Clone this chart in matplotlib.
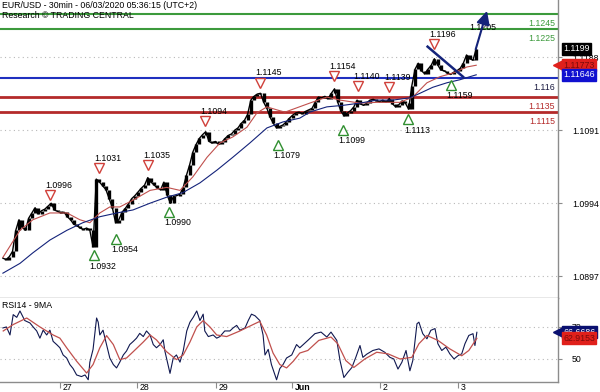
import matplotlib
matplotlib.use("Agg")
import matplotlib.pyplot as plt
from matplotlib.transforms import offset_copy, blended_transform_factory

plt.rcParams['font.family'] = ['Liberation Sans', 'DejaVu Sans']

# hourly closes, hour 0 = first bar on the chart
closes = [
    1.0921, 1.0919, 1.0923, 1.0930, 1.0958, 1.0972, 1.0962, 1.0958, 1.0974, 1.0981,
    1.0988, 1.0980, 1.0984, 1.0986, 1.0990, 1.0994, 1.0985, 1.0983, 1.0981, 1.0982,
    1.0976, 1.0972, 1.0966, 1.0964, 1.0961, 1.0959, 1.0961, 1.0958, 1.0936, 1.1026,
    1.1022, 1.1017, 1.1012, 1.1000, 1.0988, 1.0968, 1.0972, 1.0982, 1.0987, 1.0993,
    1.1000, 1.1004, 1.1009, 1.1014, 1.1018, 1.1028, 1.1022, 1.1018, 1.1014, 1.1012,
    1.1022, 1.1005, 1.0994, 1.1003, 1.1004, 1.1006, 1.1015, 1.1031, 1.1045, 1.1062,
    1.1072, 1.1080, 1.1085, 1.1089, 1.1076, 1.1074, 1.1076, 1.1072, 1.1075, 1.1080,
    1.1084, 1.1086, 1.1091, 1.1094, 1.1100, 1.1104, 1.1112, 1.1131, 1.1136, 1.1139,
    1.1140, 1.1128, 1.1120, 1.1108, 1.1100, 1.1094, 1.1096, 1.1098, 1.1102, 1.1107,
    1.1111, 1.1114, 1.1115, 1.1113, 1.1116, 1.1118, 1.1120, 1.1128, 1.1135, 1.1134,
    1.1136, 1.1133, 1.1140, 1.1146, 1.1128, 1.1116, 1.1110, 1.1114, 1.1117, 1.1122,
    1.1131, 1.1126, 1.1124, 1.1127, 1.1131, 1.1132, 1.1130, 1.1129, 1.1131, 1.1128,
    1.1133, 1.1126, 1.1122, 1.1125, 1.1130, 1.1127, 1.1119, 1.1150, 1.1172, 1.1180,
    1.1170, 1.1166, 1.1172, 1.1177, 1.1186, 1.1178, 1.1171, 1.1170, 1.1167, 1.1165,
    1.1168, 1.1170, 1.1173, 1.1180, 1.1191, 1.1186, 1.1184, 1.1199,
]

# moving averages
ma_red_h = [0, 5.3, 9.3, 14.6, 19.9, 23.9, 27, 30.1, 33.2, 36.3, 40.4, 45.7, 50.9, 55, 59,
            63.4, 67.4, 71.4, 75.8, 78.9, 82, 85.1, 87.6, 95.3, 100.6, 104.7, 110.9, 116.1,
            123.3, 127.3, 131.7, 135.7, 139.8, 144.1, 147]
ma_red = [1.0922, 1.0958, 1.0972, 1.0981, 1.0981, 1.0972, 1.0968, 1.0981, 1.0989, 1.0989,
          1.0998, 1.1011, 1.1015, 1.1011, 1.1029, 1.1055, 1.1074, 1.1082, 1.1095, 1.1114,
          1.1122, 1.1118, 1.1115, 1.1127, 1.1135, 1.1131, 1.1127, 1.1128, 1.1128, 1.1135,
          1.1154, 1.1162, 1.1167, 1.1175, 1.11773]
ma_blue_h = [0, 5.3, 9.3, 14.6, 19.9, 24.8, 30.1, 35.4, 40.4, 45.7, 50.9, 55.9, 61.2, 66.5,
             71.4, 76.7, 82, 87, 92.2, 95.3, 100.6, 105.6, 110.9, 116.1, 121.1, 126.4, 129.5,
             133.5, 137.9, 141.9, 147]
ma_blue = [1.0901, 1.0914, 1.0928, 1.0945, 1.0958, 1.0968, 1.0976, 1.0981, 1.0985, 1.0994,
           1.1002, 1.1008, 1.1021, 1.1038, 1.1055, 1.1074, 1.1094, 1.1102, 1.1107, 1.1115,
           1.1122, 1.1124, 1.1127, 1.1131, 1.1131, 1.1134, 1.1140, 1.1148, 1.1154, 1.1158,
           1.11646]

# swing highs / lows marked on the chart
high_h = [14.6, 29.8, 45, 62.7, 79.8, 102.8, 110.2, 119.9, 133.9]
high_v = [1.0996, 1.1031, 1.1035, 1.1094, 1.1145, 1.1154, 1.1140, 1.1139, 1.1196]
high_lbl = ['1.0996', '1.1031', '1.1035', '1.1094', '1.1145', '1.1154', '1.1140', '1.1139', '1.1196']
low_h = [28.3, 35.1, 51.6, 85.4, 105.6, 125.8, 139.1]
low_v = [1.0932, 1.0954, 1.0990, 1.1079, 1.1099, 1.1113, 1.1159]
low_lbl = ['1.0932', '1.0954', '1.0990', '1.1079', '1.1099', '1.1113', '1.1159']
target_h = 149
target_v = 1.1205

res_levels = [1.1245, 1.1225]
pivot_level = 1.116
sup_levels = [1.1135, 1.1115]

# trendline and projected arrow
trend_h = [131.9, 142.9]
trend_v = [1.1202, 1.1162]
arrow_h = [146.6, 150.6]
arrow_v = [1.1195, 1.1253]

# RSI and its 9MA
rsi_h = [0, 1.1, 2.2, 3.2, 4.3, 5.3, 6.8, 8.4, 9.4, 10.5, 11.5, 12.5, 13.6, 14.6, 15.6, 16.7,
         17.7, 18.7, 19.8, 20.8, 21.8, 22.9, 24.4, 25.5, 26.5, 27, 28, 29.1, 29.6, 30.1, 31.1,
         32.2, 33.2, 34.3, 35.3, 36.3, 37.4, 38.4, 39.4, 40.5, 41.5, 42.5, 43.6, 44.6, 45.7,
         46.7, 47.7, 48.8, 49.8, 50.3, 50.8, 51.9, 52.9, 53.9, 55, 56, 57.1, 58.1, 59.1, 60.2,
         61.2, 62.2, 62.7, 63.8, 65.3, 66.4, 67.4, 68.9, 70.5, 71.5, 72.6, 73.6, 75.2, 76.2,
         77.2, 78.3, 79.8, 80.8, 81.4, 82.4, 83.4, 84.5, 85, 86, 87, 88.1, 89.7, 91.2, 92.2,
         94.7, 96.9, 98.8, 100.6, 101.9, 103.7, 104.7, 105.9, 107.1, 108.4, 109.6, 110.9,
         111.8, 113, 114.9, 116.8, 118.6, 120.2, 121.4, 122.7, 123.9, 125.2, 126.4, 127.3,
         128.6, 129.2, 130.4, 131.7, 132.9, 134.2, 135.1, 136.3, 137.6, 138.8, 140.1, 141.3,
         142.5, 143.5, 144.7, 146, 146.6, 147.2]
rsi = [69.4, 70, 65, 77.7, 76, 80, 74, 72.5, 70, 67.5, 63, 68, 65, 68, 61, 59,
       57, 52.5, 50.6, 46.5, 44, 40, 39, 40, 37, 48, 56, 75.6, 73, 65, 68,
       59, 50.6, 46.5, 44.4, 48, 52.5, 55, 59, 61, 63, 66, 64, 67.5, 65,
       59, 57, 59, 62, 55, 50.6, 41, 50.6, 52.5, 48, 55, 67.5, 73, 76, 80,
       74, 78, 67.5, 64, 65, 63, 64, 67.5, 67.5, 69.4, 71, 68, 69.4, 74,
       78, 77, 74, 65, 52.5, 56, 46.5, 40, 37, 44, 46.5, 50.6, 52.5, 59, 57,
       61.6, 65.8, 66.8, 63.7, 66.8, 61.6, 49, 38.4, 41.6, 44.7, 51, 58.4,
       51, 53, 55.3, 56.3, 54.2, 51, 50, 43.7, 47.9, 55.3, 42.6, 49,
       72, 73, 65.8, 62.6, 67.9, 69, 59.5, 55.3, 57.4, 53.2, 50, 52,
       53.2, 59.5, 64.7, 65.8, 58.4, 66.6686]
rsi_ma_h = [0.1, 3.2, 7.4, 11.5, 15.6, 17.7, 19.8, 22.9, 26, 28, 30.1, 32.2, 34.3, 36.3, 38.4,
            40.5, 43.6, 45.7, 47.7, 50.8, 53.9, 56, 58.1, 60.2, 62.2, 64.3, 66.4, 69.5, 73.6,
            77.7, 79.8, 81.9, 83.9, 86, 88.1, 90.2, 92.2, 94.7, 98.1, 101.9, 104, 106.5, 109,
            112.4, 116.1, 119.6, 123.3, 127, 129.2, 131.7, 135.1, 138.8, 142.5, 144.7, 147.2]
rsi_ma = [67.5, 71.5, 75.6, 70, 65, 63, 57, 48.6, 41.2, 46.5, 57, 64.6, 59, 49.6, 50.6,
          54.6, 60.6, 65, 61.9, 54.6, 49.6, 52.5, 60.6, 70, 74, 70, 65, 64, 67.5,
          71.5, 73.5, 65, 53.7, 46.5, 44.4, 48.6, 53.7, 55.3, 61.6, 63.7, 59.5, 49, 44.7,
          50, 54.2, 53.2, 50, 51, 59.5, 64.7, 61.6, 56.3, 52, 55.3, 62.9153]

day_pos = [17.7, 41.6, 66.1, 89.8, 117.1, 141.3]
day_lbl = ['27', '28', '29', 'Jun', '2', '3']

price_ticks = [1.1188, 1.1091, 1.0994, 1.0897]
rsi_ticks = [70, 50]

GREEN = '#3c9a3c'
BLUE = '#1f2fbf'
RED = '#b42a2a'
NAVY = '#14237a'
GRID = '#b8b8b8'
SPINE = '#8c8c8c'
FS = 6.3


def style_axis(ax):
    for s in ['top', 'left']:
        ax.spines[s].set_visible(False)
    for s in ['right', 'bottom']:
        ax.spines[s].set_color(SPINE)
        ax.spines[s].set_linewidth(1)
    ax.yaxis.tick_right()
    ax.tick_params(axis='y', direction='out', length=3, color=SPINE, labelsize=FS, pad=7)
    ax.set_xlim(-0.9, 172.4)


def value_box(ax, y, text, fc, tc, arrow=False):
    # coloured value tag on the right of the axis, optionally with a pointer
    tr = blended_transform_factory(ax.transAxes, ax.transData)
    ax.text(1.009, y, text, transform=tr, fontsize=FS, color=tc,
            va='center', ha='left', zorder=10, clip_on=False,
            bbox=dict(boxstyle='square,pad=0.15', fc=fc, ec=fc))
    if arrow:
        ax.plot([1.0], [y], marker='<', ms=7, color=fc, mec=fc, transform=tr,
                clip_on=False, zorder=10)


def level_label(ax, lv, color):
    tr = offset_copy(blended_transform_factory(ax.transAxes, ax.transData), fig=ax.figure,
                     y=-3.5, units='points')
    ax.text(0.995, lv, '%g' % lv, transform=tr, color=color, fontsize=FS, ha='right', va='top')


fig = plt.figure(figsize=(6, 3.92), dpi=100)
ax = fig.add_axes([0, 0.2398, 0.93, 0.7602])
ax2 = fig.add_axes([0, 0.0255, 0.93, 0.2143])

# ---- price panel
style_axis(ax)
ax.set_ylim(1.0868, 1.1264)
ax.set_yticks(price_ticks)
ax.set_yticklabels(['%.4f' % t for t in price_ticks])
ax.set_xticks([])
for t in price_ticks:
    ax.axhline(t, color=GRID, lw=0.8, ls=(0, (1, 3)), zorder=0)

for lv in res_levels:
    ax.axhline(lv, color=GREEN, lw=1.5, zorder=2)
    level_label(ax, lv, GREEN)
ax.axhline(pivot_level, color=BLUE, lw=1.5, zorder=2)
level_label(ax, pivot_level, '#1a1a40')
for lv in sup_levels:
    ax.axhline(lv, color=RED, lw=2, zorder=2)
    level_label(ax, lv, RED)

hours = list(range(len(closes)))
opens = [closes[0]] + closes[:-1]
ax.vlines(hours, [min(o, c) for o, c in zip(opens, closes)],
          [max(o, c) for o, c in zip(opens, closes)], color='black', lw=2.4, zorder=4)
ax.plot(hours, closes, color='black', lw=1, zorder=4)
ax.plot(ma_red_h, ma_red, color='#c0504d', lw=0.8, zorder=5)
ax.plot(ma_blue_h, ma_blue, color=NAVY, lw=0.8, zorder=5)

up = offset_copy(ax.transData, fig=fig, y=5, units='points')
dn = offset_copy(ax.transData, fig=fig, y=-4, units='points')
ax.plot(high_h, high_v, 'v', ms=6.5, mfc='white', mec='#d0403a', mew=1, transform=up, zorder=6)
ax.plot(low_h, low_v, '^', ms=6.5, mfc='white', mec='#2f8f2f', mew=1, transform=dn, zorder=6)
for h, v, t in zip(high_h, high_v, high_lbl):
    ax.annotate(t, (h, v), xytext=(6.5, 12), textcoords='offset points', fontsize=FS,
                ha='center', va='center', zorder=7)
for h, v, t in zip(low_h, low_v, low_lbl):
    ax.annotate(t, (h, v), xytext=(6.5, -12), textcoords='offset points', fontsize=FS,
                ha='center', va='center', zorder=7)
ax.annotate('1.1205', (target_h, target_v), xytext=(0, 12), textcoords='offset points',
            fontsize=FS, ha='center', va='center', zorder=7)

ax.plot(trend_h, trend_v, color=NAVY, lw=1.8, zorder=6)
ax.annotate('', xy=(arrow_h[1], arrow_v[1]), xytext=(arrow_h[0], arrow_v[0]),
            arrowprops=dict(arrowstyle='-|>,head_length=0.8,head_width=0.4', color=NAVY, lw=1.5),
            zorder=8)

ax.text(0.004, 0.997, 'EUR/USD - 30min - 06/03/2020 05:36:15 (UTC+2)', transform=ax.transAxes,
        fontsize=FS, va='top', ha='left')
ax.text(0.004, 0.962, 'Research \u00a9 TRADING CENTRAL', transform=ax.transAxes,
        fontsize=FS, va='top', ha='left')

value_box(ax, closes[-1], '%.4f' % closes[-1], 'black', 'white')
value_box(ax, ma_red[-1], '%.5f' % ma_red[-1], '#e0201b', '#7a0a0a', arrow=True)
value_box(ax, ma_blue[-1], '%.5f' % ma_blue[-1], '#1010d0', 'white')

# ---- RSI panel
style_axis(ax2)
ax2.set_ylim(35.6, 88.1)
ax2.set_yticks(rsi_ticks)
ax2.set_yticklabels([str(t) for t in rsi_ticks])
for t in rsi_ticks:
    ax2.axhline(t, color=GRID, lw=0.8, ls=(0, (1, 3)), zorder=0)
ax2.plot(rsi_h, rsi, color='#101850', lw=0.8, zorder=3)
ax2.plot(rsi_ma_h, rsi_ma, color='#c0504d', lw=0.9, zorder=4)
ax2.text(0.004, 0.96, 'RSI14 - 9MA', transform=ax2.transAxes, fontsize=FS, va='top', ha='left')
value_box(ax2, rsi[-1], '%.4f' % rsi[-1], '#0a1070', 'white', arrow=True)
value_box(ax2, rsi_ma[-1], '%.4f' % rsi_ma[-1], '#e0201b', '#7a0a0a')

ax2.set_xticks(day_pos)
ax2.set_xticklabels([])
ax2.tick_params(axis='x', direction='out', length=4, color=SPINE)
for p, lbl in zip(day_pos, day_lbl):
    ax2.annotate(lbl, (p, 0), xycoords=('data', 'axes fraction'), xytext=(2, -0.5),
                 textcoords='offset points', fontsize=FS, ha='left', va='top',
                 fontweight='bold' if lbl == 'Jun' else 'normal')

fig.savefig('out.png', dpi=100, facecolor='white')
